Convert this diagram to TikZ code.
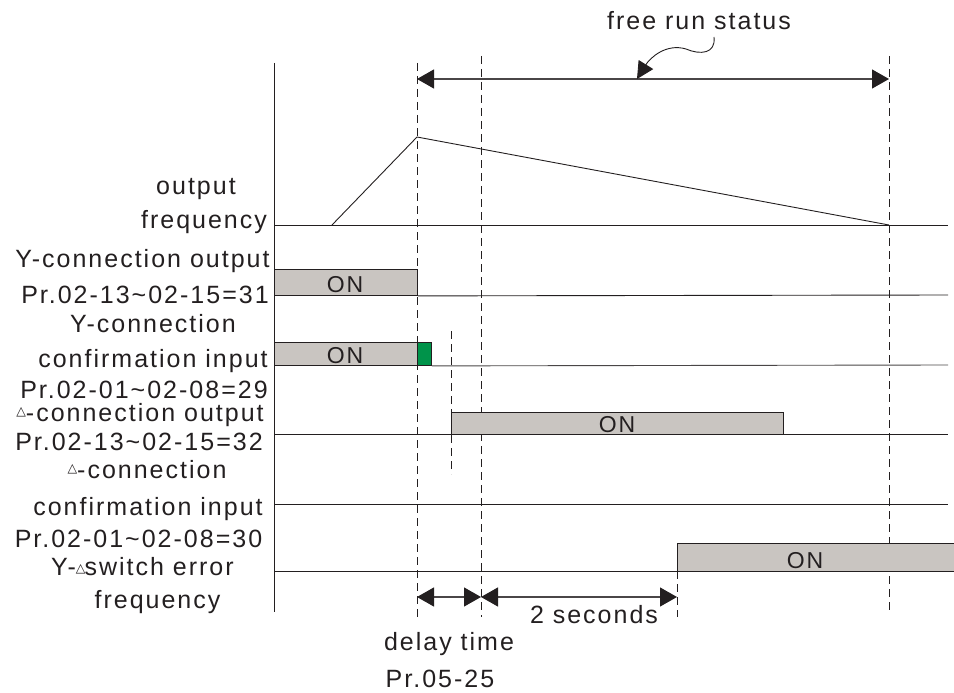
\documentclass[tikz,border=0pt]{standalone}
\usepackage{fontspec}
\setmainfont{Liberation Sans}[LetterSpace=8]
\newfontfamily\symfont{DejaVu Sans}
\usetikzlibrary{arrows.meta}
\definecolor{ink}{HTML}{231F20}
\definecolor{linegray}{HTML}{4A4647}
\definecolor{boxgray}{HTML}{C9C5C1}
\definecolor{ongreen}{HTML}{00934A}
\newcommand\tri{{\symfont\fontsize{12.5}{12.5}\selectfont\char"25B3}}
\begin{document}
\begin{tikzpicture}[x=1pt,y=-1pt,
  lbl/.style={font=\fontsize{25}{30}\selectfont, text=ink, inner sep=0pt, anchor=base},
  ontext/.style={font=\fontsize{23}{27}\selectfont, text=ink, inner sep=0pt, anchor=base},
  sig/.style={draw=ink, line width=0.9pt},
  guide/.style={draw=ink, line width=0.8pt, dash pattern=on 8pt off 5pt},
  onbox/.style={draw=ink, fill=boxgray, line width=0.9pt, inner sep=0pt, anchor=north west},
  tipA/.tip={Triangle[length=17pt,width=19pt,color=ink]},
  dim/.style={draw=linegray, line width=1.2pt, tipA-tipA},
]
\useasboundingbox (0,0) rectangle (954,693);

% axis and guides
\coordinate (ax0) at (274,63);
\coordinate (ax1) at (274,612);
\draw[sig] (ax0) -- (ax1);
\coordinate (g1a) at (417,63);  \coordinate (g1b) at (417,621);
\coordinate (g2a) at (481,56);  \coordinate (g2b) at (481,617);
\coordinate (g3a) at (889,56);  \coordinate (g3b) at (889,614);
\coordinate (g4a) at (677,571); \coordinate (g4b) at (677,617);
\coordinate (g5a) at (451,331); \coordinate (g5b) at (451,474);
\draw[guide] (g1a) -- (g1b);
\draw[guide] (g2a) -- (g2b);
\draw[guide] (g3a) -- (g3b);
\draw[guide] (g4a) -- (g4b);
\draw[guide] (g5a) -- (g5b);

% free run status
\node[lbl] (free) at (699,30) {free run status};
\coordinate (fa) at (417,79);
\coordinate (fb) at (889,79);
\draw[dim] (fa) -- (fb);
\coordinate (cs) at (714,37);
\coordinate (cm) at (686,49);
\coordinate (ce) at (637,79);
\draw[draw=ink, line width=0.9pt, -{Triangle[length=17pt,width=17pt,color=ink]}]
  (cs) .. controls (716,54) and (700,55) .. (cm) .. controls (666,43) and (650,58) .. (ce);

% output frequency
\coordinate (f0) at (274,225);
\coordinate (f1) at (332,225);
\coordinate (fp) at (417,137);
\coordinate (fe) at (889,225);
\coordinate (f2) at (948,225);
\draw[sig] (f0) -- (f2);
\draw[sig] (f1) -- (fp) -- (fe);

% Y-connection output
\node[onbox, minimum width=143pt, minimum height=26pt] (b1) at (274,269) {};
\draw[sig] (b1.south east) -- (948,295);
\node[ontext] (on1) at (345,292) {ON};

% Y-connection confirmation input
\node[onbox, minimum width=143pt, minimum height=23pt] (b2) at (274,342) {};
\node[onbox, fill=ongreen, minimum width=14pt, minimum height=23pt] (gr) at (417,342) {};
\draw[draw=linegray, line width=0.9pt] (gr.south east) -- (948,365);
\node[ontext] (on2) at (345,363) {ON};

% Delta-connection output
\draw[sig] (274,434) -- (948,434);
\node[onbox, minimum width=332pt, minimum height=22pt] (b3) at (451,412) {};
\node[ontext] (on3) at (617,432) {ON};

% Delta-connection confirmation input
\draw[sig] (274,504) -- (948,504);

% Y-Delta switch error
\draw[sig] (274,571) -- (677,571);
\node[onbox, minimum width=290pt, minimum height=28pt] (b4) at (677,543) {};
\node[ontext] (on4) at (805,568) {ON};

% bottom dimensions
\coordinate (da) at (417,597);
\coordinate (db) at (481,597);
\coordinate (dc) at (677,597);
\draw[dim] (da) -- (db);
\draw[dim] (db) -- (dc);
\node[lbl] (two) at (594,623) {2 seconds};
\node[lbl] (delay) at (449,650) {delay time};
\node[lbl] (pr525) at (440,687) {Pr.05-25};

% left labels
\node[lbl] (l1) at (196,194) {output};
\node[lbl] (l2) at (204,228) {frequency};
\node[lbl] (l3) at (142.5,267) {Y-connection output};
\node[lbl] (l4) at (145,303) {Pr.02-13\textasciitilde 02-15=31};
\node[lbl] (l5) at (153,332) {Y-connection};
\node[lbl] (l6) at (153,367) {confirmation input};
\node[lbl] (l7) at (144,398) {Pr.02-01\textasciitilde 02-08=29};
\node[lbl] (l8) at (140,421) {\raisebox{6pt}{\tri}-connection output};
\node[lbl] (l9) at (139,450) {Pr.02-13\textasciitilde 02-15=32};
\node[lbl] (l10) at (147,478) {\raisebox{6pt}{\tri}-connection};
\node[lbl] (l11) at (148,515) {confirmation input};
\node[lbl] (l12) at (138.5,547) {Pr.02-01\textasciitilde 02-08=30};
\node[lbl] (l13) at (142.5,575) {Y-\raisebox{3pt}{\tri}\kern-1pt switch error};
\node[lbl] (l14) at (157.5,608) {frequency};
\end{tikzpicture}
\end{document}
